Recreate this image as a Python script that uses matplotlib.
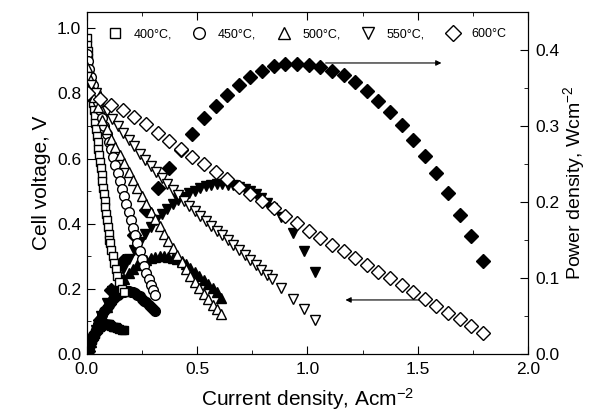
import matplotlib
matplotlib.use("Agg")
import matplotlib.pyplot as plt
from matplotlib.ticker import MultipleLocator, FormatStrFormatter

plt.rcParams['font.family'] = ['Liberation Sans', 'DejaVu Sans']
plt.rcParams['font.size'] = 12
plt.rcParams['mathtext.default'] = 'regular'

# ---- data ----
labels = ['400°C,', '450°C,', '500°C,', '550°C,', '600°C']

i400 = [0.001, 0.002, 0.004, 0.006, 0.008, 0.011, 0.014, 0.018, 0.022, 0.025,
        0.029, 0.032, 0.036, 0.039, 0.043, 0.046, 0.050, 0.053, 0.057, 0.060,
        0.064, 0.067, 0.071, 0.074, 0.078, 0.081, 0.085, 0.088, 0.092, 0.095,
        0.099, 0.102, 0.105, 0.111, 0.117, 0.124, 0.131, 0.139, 0.148, 0.158, 0.168]
v400 = [0.97, 0.95, 0.93, 0.91, 0.89, 0.87, 0.85, 0.83, 0.81, 0.79,
        0.77, 0.75, 0.73, 0.71, 0.69, 0.67, 0.65, 0.63, 0.61, 0.59,
        0.57, 0.55, 0.53, 0.51, 0.49, 0.47, 0.45, 0.43, 0.41, 0.39,
        0.37, 0.35, 0.34, 0.32, 0.30, 0.28, 0.26, 0.24, 0.22, 0.20, 0.19]
p400 = [0.001, 0.002, 0.004, 0.005, 0.007, 0.010, 0.012, 0.015, 0.018, 0.020,
        0.022, 0.024, 0.026, 0.028, 0.030, 0.031, 0.033, 0.034, 0.035, 0.036,
        0.037, 0.038, 0.039, 0.040, 0.040, 0.040, 0.040, 0.040, 0.040, 0.039,
        0.039, 0.038, 0.038, 0.037, 0.036, 0.036, 0.035, 0.034, 0.033, 0.032, 0.032]

i450 = [0.002, 0.006, 0.012, 0.020, 0.030, 0.040, 0.050, 0.060, 0.070, 0.080,
        0.090, 0.100, 0.110, 0.120, 0.130, 0.140, 0.150, 0.160, 0.170, 0.180,
        0.190, 0.200, 0.210, 0.220, 0.230, 0.240, 0.250, 0.260, 0.270, 0.280,
        0.290, 0.300, 0.310]
v450 = [0.92, 0.90, 0.875, 0.85, 0.825, 0.80, 0.775, 0.75, 0.725, 0.70,
        0.676, 0.652, 0.628, 0.604, 0.58, 0.556, 0.532, 0.508, 0.484, 0.46,
        0.436, 0.412, 0.388, 0.364, 0.34, 0.316, 0.293, 0.271, 0.250, 0.231,
        0.213, 0.196, 0.180]
p450 = [0.002, 0.005, 0.011, 0.017, 0.025, 0.032, 0.039, 0.045, 0.051, 0.056,
        0.061, 0.065, 0.069, 0.072, 0.075, 0.078, 0.080, 0.081, 0.082, 0.083,
        0.083, 0.082, 0.081, 0.080, 0.078, 0.076, 0.073, 0.070, 0.068, 0.065,
        0.062, 0.059, 0.056]

i500 = [0.003, 0.010, 0.020, 0.035, 0.050, 0.070, 0.090, 0.110, 0.130, 0.150,
        0.170, 0.190, 0.210, 0.230, 0.250, 0.270, 0.290, 0.310, 0.330, 0.350,
        0.370, 0.390, 0.410, 0.430, 0.450, 0.470, 0.490, 0.510, 0.530, 0.550,
        0.570, 0.590, 0.610]
v500 = [0.88, 0.85, 0.82, 0.79, 0.76, 0.72, 0.69, 0.66, 0.635, 0.61,
        0.585, 0.56, 0.535, 0.51, 0.485, 0.46, 0.437, 0.414, 0.392, 0.370,
        0.348, 0.326, 0.304, 0.283, 0.262, 0.241, 0.221, 0.202, 0.185, 0.168,
        0.152, 0.137, 0.122]
p500 = [0.003, 0.009, 0.016, 0.028, 0.038, 0.050, 0.062, 0.073, 0.083, 0.092,
        0.099, 0.106, 0.112, 0.117, 0.121, 0.124, 0.127, 0.128, 0.129, 0.129,
        0.128, 0.127, 0.125, 0.122, 0.118, 0.113, 0.108, 0.103, 0.098, 0.092,
        0.087, 0.081, 0.074]

i550 = [0.003, 0.020, 0.040, 0.065, 0.090, 0.115, 0.140, 0.165, 0.190, 0.215,
        0.240, 0.265, 0.290, 0.315, 0.340, 0.365, 0.390, 0.415, 0.440, 0.465,
        0.490, 0.515, 0.540, 0.565, 0.590, 0.615, 0.640, 0.665, 0.690, 0.715,
        0.740, 0.765, 0.790, 0.815, 0.840, 0.880, 0.935, 0.985, 1.034]
v550 = [0.850, 0.825, 0.800, 0.772, 0.745, 0.722, 0.700, 0.678, 0.658, 0.638,
        0.615, 0.596, 0.577, 0.558, 0.540, 0.522, 0.505, 0.488, 0.471, 0.455,
        0.439, 0.424, 0.409, 0.394, 0.379, 0.364, 0.349, 0.334, 0.319, 0.304,
        0.289, 0.274, 0.259, 0.244, 0.229, 0.204, 0.170, 0.138, 0.104]
p550 = [0.003, 0.017, 0.032, 0.050, 0.067, 0.083, 0.098, 0.112, 0.125, 0.137,
        0.148, 0.158, 0.167, 0.176, 0.184, 0.191, 0.197, 0.203, 0.207, 0.212,
        0.215, 0.218, 0.221, 0.223, 0.224, 0.224, 0.223, 0.222, 0.220, 0.217,
        0.214, 0.210, 0.205, 0.199, 0.192, 0.180, 0.159, 0.136, 0.108]

i600 = [0.005, 0.058, 0.110, 0.163, 0.216, 0.268, 0.321, 0.374, 0.426, 0.479,
        0.532, 0.584, 0.637, 0.690, 0.742, 0.795, 0.848, 0.900, 0.953, 1.006,
        1.058, 1.111, 1.164, 1.216, 1.269, 1.322, 1.374, 1.427, 1.480, 1.532,
        1.585, 1.638, 1.690, 1.743, 1.796]
v600 = [0.800, 0.784, 0.766, 0.748, 0.728, 0.705, 0.680, 0.655, 0.630, 0.605,
        0.582, 0.559, 0.536, 0.513, 0.491, 0.469, 0.447, 0.424, 0.401, 0.378,
        0.357, 0.336, 0.315, 0.294, 0.273, 0.252, 0.232, 0.211, 0.190, 0.169,
        0.148, 0.127, 0.106, 0.086, 0.066]
p600 = [0.004, 0.045, 0.084, 0.122, 0.157, 0.189, 0.218, 0.245, 0.268, 0.290,
        0.310, 0.326, 0.341, 0.354, 0.364, 0.373, 0.379, 0.382, 0.382, 0.380,
        0.378, 0.373, 0.367, 0.358, 0.346, 0.333, 0.319, 0.301, 0.282, 0.261,
        0.238, 0.212, 0.183, 0.155, 0.123]

currents = [i400, i450, i500, i550, i600]
voltages = [v400, v450, v500, v550, v600]
powers = [p400, p450, p500, p550, p600]
markers = ['s', 'o', '^', 'v', 'D']
msizes = [6, 7, 7.5, 7.5, 7]

fig = plt.figure(figsize=(5.9, 4.16), dpi=100)
ax = fig.add_axes([0.147, 0.149, 0.748, 0.822])
ax2 = ax.twinx()

for cur, vol, pw, mk, ms, lab in zip(currents, voltages, powers, markers, msizes, labels):
    ax2.plot(cur, pw, ls='none', marker=mk, ms=ms, mfc='black', mec='black', mew=1)
    ax.plot(cur, vol, ls='none', marker=mk, ms=ms, mfc='white', mec='black', mew=1, label=lab)

# voltage markers drawn above the power markers
ax.set_zorder(ax2.get_zorder() + 1)
ax.patch.set_visible(False)

ax.set_xlim(0, 2.0)
ax.set_ylim(0, 1.05)
ax2.set_ylim(0, 0.45)

ax.xaxis.set_major_locator(MultipleLocator(0.5))
ax.xaxis.set_minor_locator(MultipleLocator(0.25))
ax.yaxis.set_major_locator(MultipleLocator(0.2))
ax.yaxis.set_minor_locator(MultipleLocator(0.1))
ax2.yaxis.set_major_locator(MultipleLocator(0.1))
ax2.yaxis.set_minor_locator(MultipleLocator(0.05))
ax.xaxis.set_major_formatter(FormatStrFormatter('%.1f'))
ax.yaxis.set_major_formatter(FormatStrFormatter('%.1f'))
ax2.yaxis.set_major_formatter(FormatStrFormatter('%.1f'))

ax.tick_params(which='both', direction='in', top=True, right=False)
ax.tick_params(which='major', length=6, labelsize=12.5)
ax.tick_params(which='minor', length=3)
ax.tick_params(axis='x', which='major', pad=6)
ax.tick_params(axis='y', which='major', pad=4)
ax2.tick_params(which='both', direction='in')
ax2.tick_params(which='major', length=6, labelsize=12.5, pad=5)
ax2.tick_params(which='minor', length=3)

ax.set_xlabel('Current density, Acm$^{-2}$', fontsize=15, labelpad=6)
ax.set_ylabel('Cell voltage, V', fontsize=15, labelpad=4)
ax2.set_ylabel('Power density, Wcm$^{-2}$', fontsize=14, labelpad=1)

ax.legend(loc='upper center', ncol=5, frameon=False, fontsize=9,
          handletextpad=1.0, columnspacing=1.7, handlelength=1.0,
          borderaxespad=0.9, bbox_to_anchor=(0.5, 1.0), markerscale=1.2)

ax2.annotate('', xy=(1.62, 0.383), xytext=(1.07, 0.383),
             arrowprops=dict(arrowstyle='-|>', lw=0.8, color='black', mutation_scale=8))
ax.annotate('', xy=(1.16, 0.166), xytext=(1.52, 0.166),
            arrowprops=dict(arrowstyle='-|>', lw=0.8, color='black', mutation_scale=8))

fig.savefig('out.png', dpi=100)
